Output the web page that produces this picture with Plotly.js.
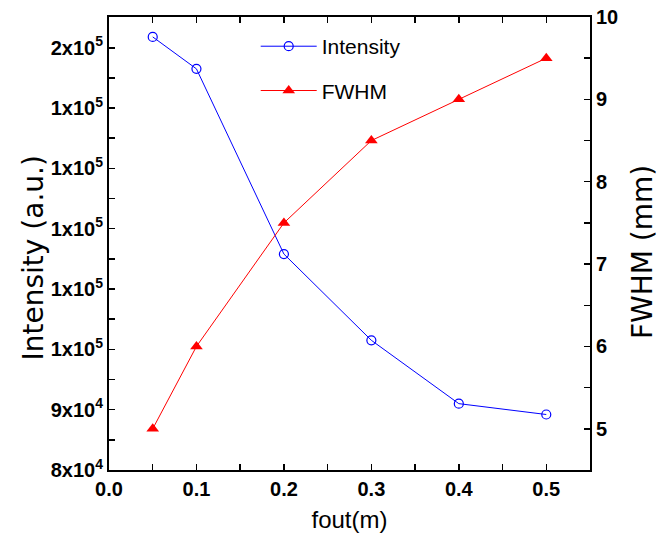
<!DOCTYPE html>
<html>
<head>
<meta charset="utf-8">
<script src="https://cdn.plot.ly/plotly-3.0.1.min.js"></script>
<style>html,body{margin:0;padding:0;background:#fff;}#chart{width:660px;height:557px;}</style>
</head>
<body>
<div id="chart"></div>
<script>
const fout = [0.05, 0.1, 0.2, 0.3, 0.4, 0.5];
const intensity = [151800, 146500, 115800, 101500, 91000, 89200];
const fwhm = [5.0, 6.0, 7.5, 8.5, 9.0, 9.5];
const xTickVals = [0, 0.1, 0.2, 0.3, 0.4, 0.5];
const xTickText = ['0.0', '0.1', '0.2', '0.3', '0.4', '0.5'];
const leftTickVals = [80000, 90000, 100000, 110000, 120000, 130000, 140000, 150000];
const leftTickText = ['8x10<sup>4</sup>', '9x10<sup>4</sup>', '1x10<sup>5</sup>', '1x10<sup>5</sup>', '1x10<sup>5</sup>', '1x10<sup>5</sup>', '1x10<sup>5</sup>', '2x10<sup>5</sup>'];
const rightTickVals = [5, 6, 7, 8, 9, 10];

const sans = 'Arial, "Liberation Sans", sans-serif';
const tickFont = {family: sans, size: 20, color: '#000', weight: 'bold'};
const sideTitleFont = {family: '"DejaVu Sans", sans-serif', size: 28, color: '#000'};

const traces = [
  {x: fout, y: intensity, name: 'Intensity', type: 'scatter', mode: 'lines+markers',
   line: {color: '#0000ff', width: 1}, marker: {symbol: 'circle-open', size: 9, color: '#0000ff', line: {width: 1.2}},
   legendgroup: 'a', yaxis: 'y'},
  {x: fout, y: fwhm, name: 'FWHM', type: 'scatter', mode: 'lines+markers',
   line: {color: '#ff0000', width: 1}, marker: {symbol: 'triangle-up', size: 11, color: '#ff0000'},
   legendgroup: 'b', yaxis: 'y2'}
];

const layout = {
  width: 660, height: 557,
  margin: {l: 109, r: 70, t: 17, b: 87},
  paper_bgcolor: '#fff', plot_bgcolor: '#fff',
  showlegend: true,
  legend: {x: 0.305, y: 0.98, xanchor: 'left', yanchor: 'top', bgcolor: 'rgba(0,0,0,0)',
           font: {family: sans, size: 21, color: '#000'}, itemwidth: 56, tracegroupgap: 14},
  xaxis: {range: [0, 0.55], tickvals: xTickVals, ticktext: xTickText,
          ticks: 'inside', ticklen: 6, tickwidth: 1.5, tickcolor: '#000',
          minor: {dtick: 0.05, ticks: 'inside', ticklen: 6, tickwidth: 1.5, tickcolor: '#000'},
          showline: true, linecolor: '#000', linewidth: 2, mirror: 'allticks', showgrid: false, zeroline: false,
          tickfont: tickFont,
          title: {text: 'fout(m)', font: {family: sans, size: 24, color: '#000'}, standoff: 12}},
  yaxis: {range: [80000, 155100], tickvals: leftTickVals, ticktext: leftTickText,
          ticks: 'inside', ticklen: 6, tickwidth: 1.5, tickcolor: '#000',
          minor: {dtick: 5000, tick0: 80000, ticks: 'inside', ticklen: 6, tickwidth: 1.5, tickcolor: '#000'},
          showline: true, linecolor: '#000', linewidth: 2, showgrid: false, zeroline: false,
          tickfont: tickFont},
  yaxis2: {range: [4.5, 10], overlaying: 'y', side: 'right', tickvals: rightTickVals,
           ticks: 'inside', ticklen: 6, tickwidth: 1.5, tickcolor: '#000',
           minor: {dtick: 0.5, ticks: 'inside', ticklen: 6, tickwidth: 1.5, tickcolor: '#000'},
           showline: true, linecolor: '#000', linewidth: 2, showgrid: false, zeroline: false,
           tickfont: tickFont},
  annotations: [
    {text: 'Intensity (a.u.)', xref: 'paper', yref: 'paper', x: -0.158, y: 0.467, xanchor: 'center', yanchor: 'middle',
     textangle: -90, showarrow: false, font: sideTitleFont},
    {text: 'FWHM (mm)', xref: 'paper', yref: 'paper', x: 1.108, y: 0.481, xanchor: 'center', yanchor: 'middle',
     textangle: -90, showarrow: false, font: sideTitleFont}
  ]
};

Plotly.newPlot('chart', traces, layout, {displayModeBar: false, staticPlot: true});
</script>
</body>
</html>
